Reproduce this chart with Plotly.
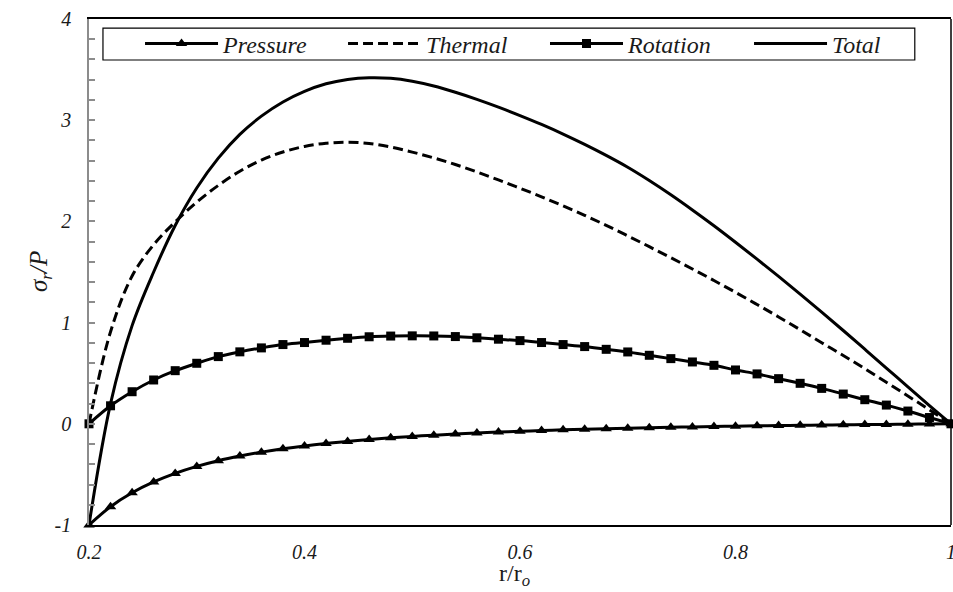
import plotly.graph_objects as go

# Radial position r/ro sampled every 0.02 from the inner to the outer radius
r_ratio = [0.20, 0.22, 0.24, 0.26, 0.28, 0.30, 0.32, 0.34, 0.36, 0.38,
           0.40, 0.42, 0.44, 0.46, 0.48, 0.50, 0.52, 0.54, 0.56, 0.58,
           0.60, 0.62, 0.64, 0.66, 0.68, 0.70, 0.72, 0.74, 0.76, 0.78,
           0.80, 0.82, 0.84, 0.86, 0.88, 0.90, 0.92, 0.94, 0.96, 0.98, 1.00]

# Normalised radial stress sigma_r / P for each load case
pressure = [-1.000, -0.819, -0.682, -0.575, -0.490, -0.421, -0.365, -0.319, -0.280, -0.247,
            -0.219, -0.195, -0.174, -0.155, -0.139, -0.125, -0.112, -0.101, -0.091, -0.082,
            -0.074, -0.067, -0.060, -0.054, -0.048, -0.043, -0.039, -0.034, -0.031, -0.027,
            -0.023, -0.020, -0.017, -0.015, -0.012, -0.010, -0.008, -0.006, -0.004, -0.002, 0.000]

thermal = [0.000, 0.910, 1.460, 1.770, 1.995, 2.190, 2.356, 2.496, 2.606, 2.686,
           2.741, 2.772, 2.783, 2.770, 2.735, 2.685, 2.627, 2.562, 2.489, 2.410,
           2.328, 2.243, 2.154, 2.060, 1.961, 1.857, 1.750, 1.641, 1.530, 1.416,
           1.299, 1.179, 1.056, 0.930, 0.801, 0.675, 0.545, 0.410, 0.275, 0.138, 0.000]

rotation = [0.000, 0.178, 0.317, 0.433, 0.525, 0.598, 0.664, 0.711, 0.750, 0.783,
            0.803, 0.826, 0.845, 0.860, 0.867, 0.869, 0.868, 0.862, 0.850, 0.836,
            0.822, 0.803, 0.783, 0.763, 0.736, 0.710, 0.677, 0.644, 0.611, 0.578,
            0.532, 0.493, 0.446, 0.400, 0.350, 0.294, 0.238, 0.185, 0.126, 0.062, 0.000]

total = [-1.000, 0.200, 0.970, 1.500, 1.960, 2.330, 2.625, 2.860, 3.040, 3.180,
         3.285, 3.360, 3.403, 3.420, 3.414, 3.385, 3.338, 3.276, 3.206, 3.129,
         3.046, 2.958, 2.863, 2.761, 2.652, 2.535, 2.404, 2.263, 2.113, 1.957,
         1.794, 1.627, 1.456, 1.281, 1.103, 0.922, 0.737, 0.551, 0.364, 0.180, 0.000]

x_tick_vals = [0.2, 0.4, 0.6, 0.8, 1.0]
x_tick_text = ["0.2", "0.4", "0.6", "0.8", "1"]
y_tick_vals = [-1, 0, 1, 2, 3, 4]
y_tick_text = ["-1", "0", "1", "2", "3", "4"]

SERIF = "Liberation Serif"
INK = "#1a1a1a"
AXIS_GREY = "#8c8c8c"
SMOOTH = 1.0

fig = go.Figure()

fig.add_trace(go.Scatter(
    x=r_ratio, y=pressure, name="Pressure", mode="lines+markers", legend="legend",
    line=dict(color="black", width=3, shape="spline", smoothing=SMOOTH),
    marker=dict(symbol="triangle-up", size=10, color="black"),
    cliponaxis=False))

fig.add_trace(go.Scatter(
    x=r_ratio, y=thermal, name="Thermal", mode="lines", legend="legend2",
    line=dict(color="black", width=3, dash="10px,5px", shape="spline", smoothing=SMOOTH),
    cliponaxis=False))

fig.add_trace(go.Scatter(
    x=r_ratio, y=rotation, name="Rotation", mode="lines+markers", legend="legend3",
    line=dict(color="black", width=3, shape="spline", smoothing=SMOOTH),
    marker=dict(symbol="square", size=9, color="black"),
    cliponaxis=False))

fig.add_trace(go.Scatter(
    x=r_ratio, y=total, name="Total", mode="lines", legend="legend4",
    line=dict(color="black", width=3, shape="spline", smoothing=SMOOTH),
    cliponaxis=False))

tick_font = dict(family=SERIF, size=20, color=INK, style="italic")

# zero line with crossing tick marks (one axis for the upper half, one for the lower)
zero_axis = dict(
    overlaying="x", anchor="free", position=0.2, range=[0.2, 1.0],
    showline=True, linecolor=AXIS_GREY, linewidth=1.5,
    tickvals=x_tick_vals, ticklen=7, tickwidth=1.5, tickcolor=AXIS_GREY,
    minor=dict(dtick=0.04, tick0=0.2, ticklen=5, tickwidth=1.5, tickcolor=AXIS_GREY),
    showticklabels=False, showgrid=False, zeroline=False)

# one single-entry legend per series, spread along the top of the plot
legend_font = dict(family=SERIF, size=24, color=INK, style="italic")
legend_left = {"legend": 0.0592, "legend2": 0.2947, "legend3": 0.529, "legend4": 0.7657}
legend_layouts = {
    name: dict(x=x, xanchor="left", y=0.9506, yanchor="middle", orientation="h",
               bgcolor="rgba(0,0,0,0)", borderwidth=0, itemwidth=73, font=legend_font)
    for name, x in legend_left.items()
}

fig.update_layout(
    width=953, height=592, autosize=False,
    margin=dict(l=89, r=2, t=19, b=67, autoexpand=False),
    paper_bgcolor="white", plot_bgcolor="white",
    showlegend=True,
    xaxis=dict(
        range=[0.2, 1.0], showline=True, linecolor="black", linewidth=2, mirror=True,
        ticks="", tickvals=x_tick_vals, ticktext=x_tick_text, tickfont=tick_font,
        ticklabelstandoff=8, ticklabeloverflow="allow", automargin=False,
        showgrid=False, zeroline=False),
    xaxis2=dict(zero_axis, ticks="outside", minor=dict(zero_axis["minor"], ticks="outside")),
    xaxis3=dict(zero_axis, ticks="inside", minor=dict(zero_axis["minor"], ticks="inside")),
    yaxis=dict(
        range=[-1, 4], showline=True, linecolor=AXIS_GREY, linewidth=1.5,
        ticks="inside", ticklen=6, tickwidth=1.5, tickcolor=AXIS_GREY,
        tickvals=y_tick_vals, ticktext=y_tick_text, tickfont=tick_font,
        minor=dict(ticks="inside", dtick=0.2, tick0=0, ticklen=6, tickwidth=1.5, tickcolor=AXIS_GREY),
        ticklabelstandoff=12, automargin=False, showgrid=False, zeroline=False),
    **legend_layouts,
    shapes=[
        # right edge of the frame
        dict(type="line", xref="paper", yref="paper", x0=1, x1=1, y0=0, y1=1,
             line=dict(color="black", width=1.5)),
        # legend box
        dict(type="rect", xref="paper", yref="paper", x0=0.0162, x1=0.958, y0=0.919, y1=0.982,
             line=dict(color="black", width=1.2), fillcolor="white", layer="below"),
    ],
    annotations=[
        dict(text="<i>σ</i><sub><i>r</i></sub><i>/P</i>", textangle=-90,
             xref="paper", yref="paper", x=-0.0568, y=0.5, xanchor="center", yanchor="middle",
             showarrow=False, font=dict(family=SERIF, size=25, color=INK)),
        dict(text="r/r<sub><i>o</i></sub>",
             xref="paper", yref="paper", x=0.494, y=-0.098, xanchor="center", yanchor="middle",
             showarrow=False, font=dict(family=SERIF, size=24, color=INK)),
    ],
)

fig.write_html("out.html")
